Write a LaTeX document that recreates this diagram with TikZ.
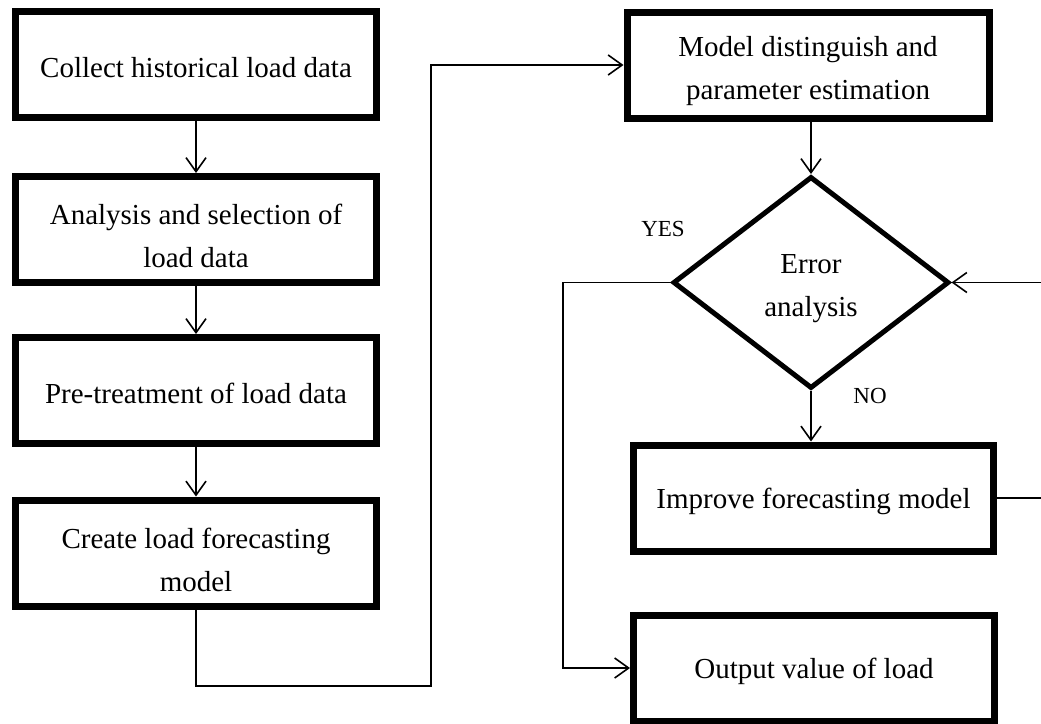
\documentclass[tikz,border=0pt]{standalone}
\usepackage{fontspec}
\setmainfont{Liberation Serif}
\usetikzlibrary{arrows.meta,shapes.geometric}
\begin{document}
\begin{tikzpicture}[x=1pt,y=-1pt,
  box/.style={draw, line width=7pt, minimum width=361pt, minimum height=106pt, inner sep=0pt},
  boxtext/.style={font=\fontsize{29}{43}\selectfont, align=center, yshift=-3pt},
  boxtexttwo/.style={boxtext, yshift=-3.5pt},
  cond/.style={draw, diamond, line width=5pt, minimum width=276pt, minimum height=212pt, inner sep=0pt},
  flow/.style={line width=1.6pt},
  arr/.style={flow, -{Straight Barb[length=14pt,width=20pt]}},
  tag/.style={font=\fontsize{23}{23}\selectfont, inner sep=0pt}
]
\useasboundingbox (0,0) rectangle (1041,723);

% left column
\node[box, label={[boxtext]center:Collect historical load data}] (b1) at (196,64.5) {};
\node[box, label={[boxtexttwo]center:{Analysis and selection of\\load data}}] (b2) at (196,229.5) {};
\node[box, label={[boxtext]center:Pre-treatment of load data}] (b3) at (196,390.5) {};
\node[box, label={[boxtexttwo]center:{Create load forecasting\\model}}] (b4) at (196,553) {};

% right column
\node[box, minimum width=362pt, label={[boxtexttwo]center:{Model distinguish and\\parameter estimation}}] (b5) at (808,65) {};
\node[cond, label={[boxtexttwo]center:{Error\\analysis}}] (d) at (811,282.5) {};
\node[box, minimum width=360pt, label={[boxtext]center:Improve forecasting model}] (b6) at (813.5,498) {};
\node[box, minimum width=361pt, label={[boxtext]center:Output value of load}] (b7) at (814,668) {};

\node[tag] (yes) at (663,229) {YES};
\node[tag] (no) at (870,396) {NO};

% turning points of the connectors
\coordinate (jl) at (431,686);
\coordinate (yl) at (563,282.5);
\coordinate (rt) at (1047,498);

% connectors
\draw[arr] (b1) -- (b2);
\draw[arr] (b2) -- (b3);
\draw[arr] (b3) -- (b4);
\draw[arr] (b4.south) |- (jl) |- (b5.west);
\draw[arr] (d.north |- b5.south) -- (d.north);
\draw[arr] (d.south) -- (d.south |- b6.north);
\draw[arr] (d.west) -- (yl) |- (b7.west);
\draw[arr] (b6.east) -- (rt) |- (d.east);
\end{tikzpicture}
\end{document}
